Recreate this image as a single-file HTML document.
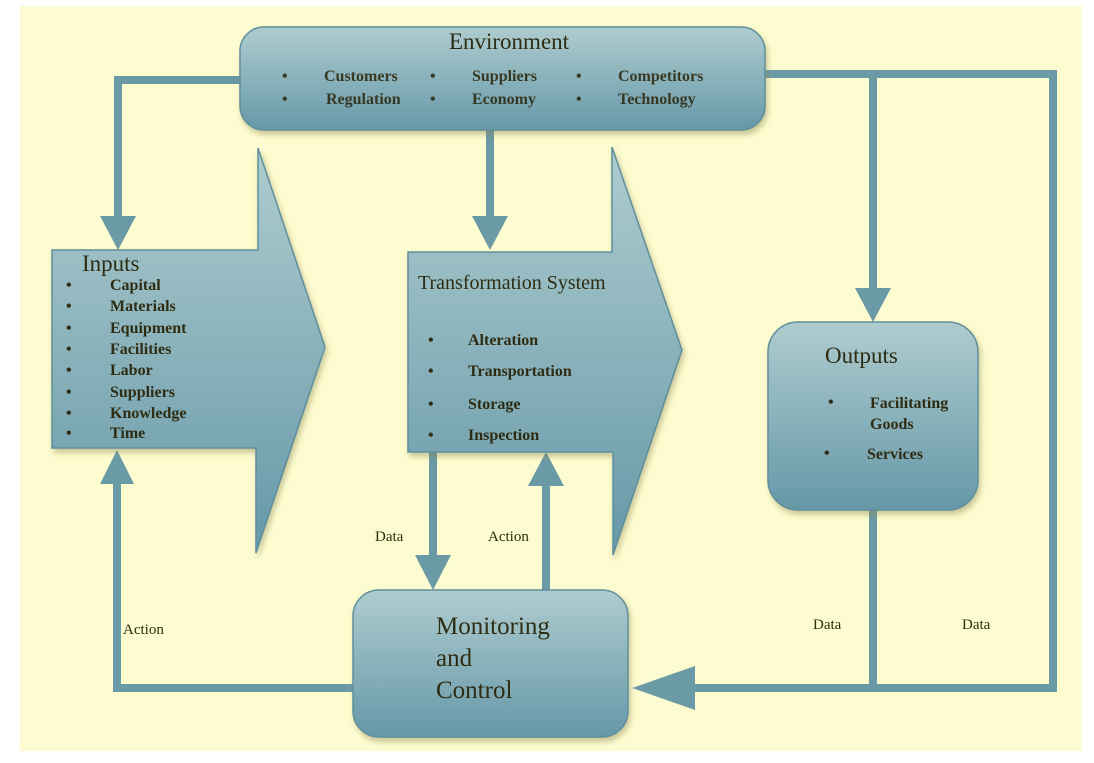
<!DOCTYPE html>
<html><head><meta charset="utf-8"><style>
html,body{margin:0;padding:0;background:#fff;}
svg{display:block;}
text{font-family:"Liberation Serif",serif;fill:#2e2c12;}
</style></head><body>
<svg width="1094" height="763" viewBox="0 0 1094 763" xmlns="http://www.w3.org/2000/svg">
<defs>
<linearGradient id="g" x1="0" y1="0" x2="0" y2="1">
<stop offset="0" stop-color="#aecccf"/><stop offset="1" stop-color="#6698a8"/>
</linearGradient>
<filter id="sh" x="-10%" y="-10%" width="130%" height="130%"><feDropShadow dx="2" dy="4" stdDeviation="3" flood-color="#8a8450" flood-opacity="0.45"/></filter>
</defs>
<rect x="20" y="6" width="1062" height="745" fill="#fdfcd0"/>
<g stroke="#6a9aa5" stroke-width="8" fill="none">
<polyline points="242,80 118,80 118,218"/>
<line x1="490" y1="130" x2="490" y2="218"/>
<polyline points="765,74 1053,74 1053,688 690,688"/>
<line x1="873" y1="74" x2="873" y2="290"/>
<line x1="873" y1="510" x2="873" y2="688"/>
<line x1="433" y1="452" x2="433" y2="558"/>
<line x1="546" y1="590" x2="546" y2="486"/>
<polyline points="355,688 117,688 117,484"/>
</g>
<g fill="#6a9aa5">
<polygon points="100,216 136,216 118,250"/>
<polygon points="472,216 508,216 490,250"/>
<polygon points="855,288 891,288 873,322"/>
<polygon points="415,555 451,555 433,590"/>
<polygon points="528,486 564,486 546,452"/>
<polygon points="100,484 134,484 117,450"/>
<polygon points="695,666 695,710 632,688"/>
</g>
<g fill="url(#g)" stroke="#5f8f9c" stroke-width="1.5" filter="url(#sh)">
<rect x="240" y="27" width="525" height="103" rx="24"/>
<polygon points="52,250 258,250 258,148 325,347 256,553 256,448 52,448"/>
<polygon points="408,252 612,252 612,147 682,350 613,555 613,452 408,452"/>
<rect x="768" y="322" width="210" height="188" rx="30"/>
<rect x="353" y="590" width="275" height="147" rx="26"/>
</g>
<text x="509" y="49" font-size="23" text-anchor="middle">Environment</text>
<g font-size="16" font-weight="bold" fill-opacity="0.9">
<text x="282" y="81">•</text><text x="324" y="81">Customers</text>
<text x="430" y="81">•</text><text x="472" y="81">Suppliers</text>
<text x="576" y="81">•</text><text x="618" y="81">Competitors</text>
<text x="282" y="104">•</text><text x="326" y="104">Regulation</text>
<text x="430" y="104">•</text><text x="472" y="104">Economy</text>
<text x="576" y="104">•</text><text x="618" y="104">Technology</text>
</g>
<text x="82" y="271" font-size="23">Inputs</text>
<g font-size="16" font-weight="bold">
<text x="66" y="290">•</text><text x="110" y="290">Capital</text>
<text x="66" y="311">•</text><text x="110" y="311">Materials</text>
<text x="66" y="333">•</text><text x="110" y="333">Equipment</text>
<text x="66" y="354">•</text><text x="110" y="354">Facilities</text>
<text x="66" y="375">•</text><text x="110" y="375">Labor</text>
<text x="66" y="397">•</text><text x="110" y="397">Suppliers</text>
<text x="66" y="418">•</text><text x="110" y="418">Knowledge</text>
<text x="66" y="438">•</text><text x="110" y="438">Time</text>
</g>
<text x="418" y="289" font-size="20">Transformation System</text>
<g font-size="16" font-weight="bold">
<text x="428" y="345">•</text><text x="468" y="345">Alteration</text>
<text x="428" y="376">•</text><text x="468" y="376">Transportation</text>
<text x="428" y="409">•</text><text x="468" y="409">Storage</text>
<text x="428" y="440">•</text><text x="468" y="440">Inspection</text>
</g>
<text x="825" y="363" font-size="23">Outputs</text>
<g font-size="16" font-weight="bold">
<text x="828" y="407">•</text><text x="870" y="408">Facilitating</text>
<text x="870" y="429">Goods</text>
<text x="824" y="458">•</text><text x="867" y="459">Services</text>
</g>
<g font-size="25">
<text x="436" y="634">Monitoring</text>
<text x="436" y="666">and</text>
<text x="436" y="698">Control</text>
</g>
<g font-size="15">
<text x="375" y="541">Data</text>
<text x="488" y="541">Action</text>
<text x="123" y="634">Action</text>
<text x="813" y="629">Data</text>
<text x="962" y="629">Data</text>
</g>
</svg>
</body></html>
